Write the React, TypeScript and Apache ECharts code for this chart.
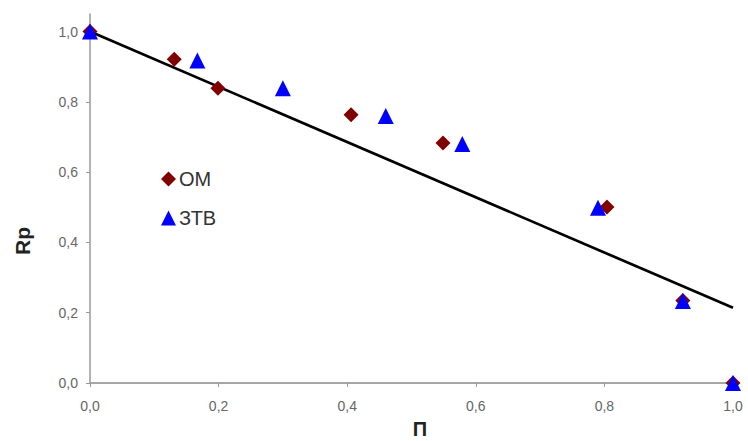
import React, { useEffect, useRef } from "react";
import * as echarts from "echarts";

const omX = [0, 0.131, 0.199, 0.406, 0.549, 0.804, 0.922, 1.0];
const omY = [1.0, 0.921, 0.839, 0.763, 0.683, 0.501, 0.235, 0.0];
const ztvX = [0, 0.167, 0.3, 0.46, 0.579, 0.79, 0.922, 1.0];
const ztvY = [1.0, 0.918, 0.839, 0.76, 0.68, 0.499, 0.233, 0.0];
const trendX = [0, 1];
const trendY = [1.0, 0.214];
const tickValues = [0, 0.2, 0.4, 0.6, 0.8, 1.0];
const seriesNames = ["ОМ", "ЗТВ"];

const fmt = (v: number) => Number(v).toFixed(1).replace(".", ",");

export default function App() {
  const ref = useRef<HTMLDivElement>(null);
  useEffect(() => {
    document.body.style.margin = "0";
    const chart = echarts.init(ref.current!, undefined, { renderer: "svg" });
    const font = "'Liberation Sans', Arial, sans-serif";
    chart.setOption({
      animation: false,
      backgroundColor: "#ffffff",
      textStyle: { fontFamily: font },
      grid: { left: 90, right: 15, top: 14, bottom: 58 },
      legend: {
        orient: "vertical",
        left: 156,
        top: 164,
        itemGap: 19,
        itemWidth: 15,
        itemHeight: 15,
        data: [
          { name: seriesNames[0], icon: "diamond" },
          { name: seriesNames[1], icon: "triangle" },
        ],
        textStyle: { fontSize: 20, color: "#333", fontFamily: font, padding: [0, 0, 0, -2] },
      },
      xAxis: {
        type: "value",
        min: 0,
        max: 1,
        interval: 0.2,
        splitLine: { show: false },
        axisLine: { onZero: false, lineStyle: { color: "#a6a6a6", width: 2 } },
        axisTick: { show: true, length: 4, lineStyle: { color: "#999" } },
        axisLabel: { formatter: fmt, fontSize: 14, color: "#666", margin: 16, fontFamily: font },
      },
      yAxis: {
        type: "value",
        min: 0,
        max: 1.05,
        splitLine: { show: false },
        axisLine: { show: true, onZero: false, lineStyle: { color: "#999", width: 1.5 } },
        axisTick: { show: true, length: 4, customValues: tickValues, lineStyle: { color: "#999" } },
        axisLabel: { customValues: tickValues, formatter: fmt, fontSize: 14, color: "#666", margin: 12, fontFamily: font },
      },
      graphic: [
        {
          type: "text",
          x: 22,
          y: 241,
          rotation: Math.PI / 2,
          style: {
            text: "Rp",
            font: "bold 21px 'Liberation Sans', Arial, sans-serif",
            fill: "#222",
            align: "center",
            verticalAlign: "middle",
          },
        },
        {
          type: "text",
          x: 420,
          y: 419,
          style: {
            text: "П",
            font: "bold 20px 'Liberation Sans', Arial, sans-serif",
            fill: "#222",
            align: "center",
            verticalAlign: "top",
          },
        },
      ],
      series: [
        {
          type: "line",
          name: "trend",
          data: trendX.map((x, i) => [x, trendY[i]]),
          showSymbol: false,
          symbol: "none",
          lineStyle: { color: "#000", width: 2.7 },
          z: 1,
        },
        {
          type: "scatter",
          name: seriesNames[0],
          symbol: "diamond",
          symbolSize: 15,
          itemStyle: { color: "#800000", opacity: 1 },
          data: omX.map((x, i) => [x, omY[i]]),
          z: 2,
        },
        {
          type: "scatter",
          name: seriesNames[1],
          symbol: "triangle",
          symbolSize: 16,
          itemStyle: { color: "#0000ff", opacity: 1 },
          data: ztvX.map((x, i) => [x, ztvY[i]]),
          z: 3,
        },
      ],
    });
    return () => chart.dispose();
  }, []);
  return <div ref={ref} style={{ width: 748, height: 441 }} />;
}
